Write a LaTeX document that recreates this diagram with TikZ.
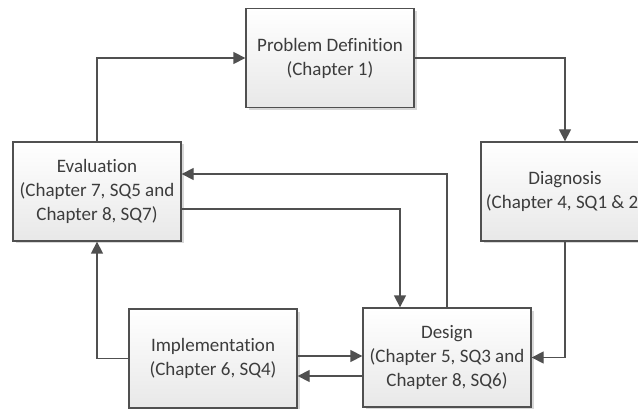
\documentclass[tikz,border=0pt]{standalone}
\usepackage{fontspec}
\setmainfont[Ligatures=NoCommon]{Carlito}
\usetikzlibrary{arrows.meta,shadows}
\definecolor{linec}{HTML}{505050}
\definecolor{textc}{HTML}{3C3C3C}
\begin{document}
\begin{tikzpicture}[x=1pt,y=-1pt,
  box/.style={draw=linec, line width=1.3pt, top color=white, bottom color=black!9,
    minimum width=168pt, minimum height=99pt, align=center, inner sep=2pt,
    font=\fontsize{19}{24}\selectfont, text=textc,
    drop shadow={shadow xshift=2.5pt, shadow yshift=-2.5pt, fill=black!30, opacity=0.5}},
  conn/.style={draw=linec, line width=1.3pt},
  arr/.style={conn, -{Triangle[length=12pt,width=12pt]}}]
\useasboundingbox (0,0) rectangle (638,409);
\clip (0,0) rectangle (638,409);
\node[box] (pd) at (330,58) {Problem Definition\\(Chapter 1)};
\node[box] (ev) at (97,191.5) {Evaluation\\(Chapter 7, SQ5 and\\Chapter 8, SQ7)};
\node[box] (dg) at (565,191.5) {Diagnosis\\(Chapter 4, SQ1 \& 2)};
\node[box] (im) at (213,358.5) {Implementation\\(Chapter 6, SQ4)};
\node[box] (ds) at (447,357.5) {Design\\(Chapter 5, SQ3 and\\Chapter 8, SQ6)};
% connectors
\draw[arr] (ev.north) |- (pd.west);
\draw[arr] (pd.east) -| (dg.north);
\draw[arr] (dg.south) |- (ds.east);
\draw[arr] (ds.north) |- ([yshift=17.5pt]ev.east);
\draw[arr] ([yshift=-17.5pt]ev.east) -| ([xshift=-47pt]ds.north);
\draw[arr] (im.west) -| (ev.south);
\draw[arr] ([yshift=2.5pt]im.east) -- ([yshift=2.5pt]im.east -| ds.west);
\draw[arr] ([yshift=-18.5pt]ds.west) -- ([yshift=-18.5pt]ds.west -| im.east);
\end{tikzpicture}
\end{document}
